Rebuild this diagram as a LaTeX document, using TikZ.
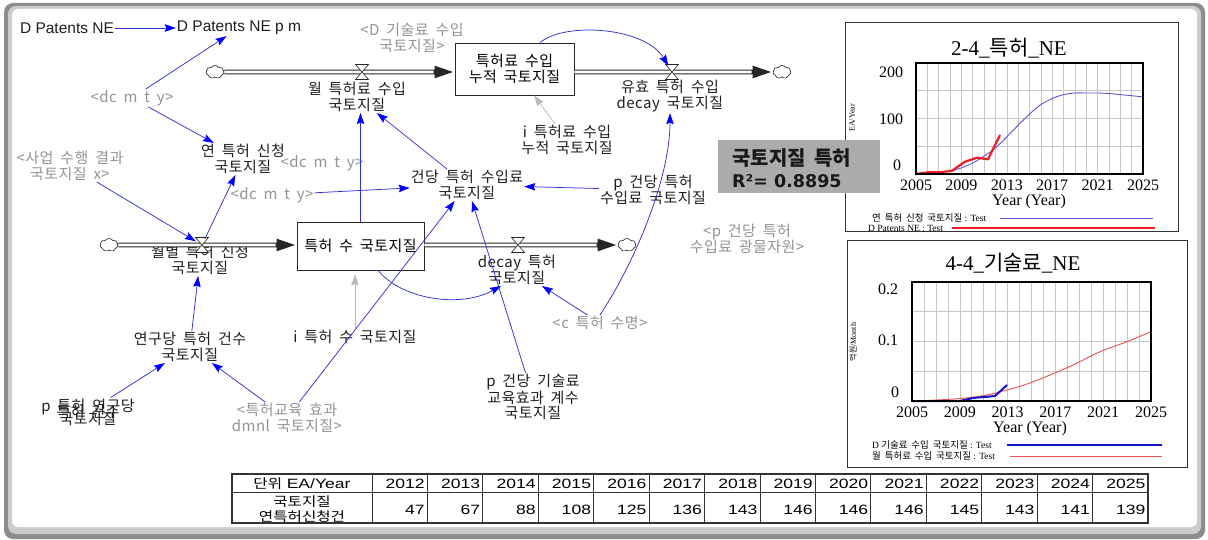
\documentclass[tikz,border=0pt]{standalone}
\usepackage{fontspec}
\setmainfont{Noto Sans CJK KR}[WordSpace=1.8, LetterSpace=3]
\newfontfamily\plainkr{Noto Sans CJK KR}[WordSpace=1.8]
\newfontfamily\lat{Liberation Sans}
\newfontfamily\dvb{DejaVu Sans}
\newfontfamily\cserif{Liberation Serif}
\newfontfamily\tabfont{Liberation Sans}[FakeStretch=1.3]
\newfontfamily\tabkr{Noto Sans CJK KR}[FakeStretch=1.2]
\usetikzlibrary{arrows.meta,shapes.geometric,shapes.symbols}
\definecolor{lnk}{RGB}{50,50,210}
\definecolor{tipc}{RGB}{0,0,255}
\definecolor{glnk}{RGB}{185,185,185}
\definecolor{boxg}{RGB}{171,171,171}
\definecolor{cablue}{RGB}{95,85,215}
\definecolor{cared}{RGB}{235,30,40}
\definecolor{cbblue}{RGB}{20,20,200}
\definecolor{cbred}{RGB}{235,80,80}
\begin{document}
\begin{tikzpicture}[x=1pt,y=-1pt,
  lbl/.style={font=\fontsize{15}{16}\selectfont, align=center, inner sep=1pt, text=black!88},
  glbl/.style={lbl, text=black!42},
  link/.style={draw=lnk, line width=0.75pt, -{Stealth[length=11pt,width=7.5pt,inset=1.5pt,color=tipc]}},
  glink/.style={draw=glnk, line width=0.75pt, -{Stealth[length=11pt,width=7.5pt,inset=1.5pt]}},
  stockbox/.style={draw=black!85, line width=0.8pt, fill=white, align=center, inner sep=0pt, font=\fontsize{15}{16.5}\selectfont},
  pipeo/.style={line width=4.6pt, draw=black!85},
  pipei/.style={line width=2.6pt, draw=white},
  pipetip/.style={-{Triangle[length=20pt,width=11pt]}},
  cloudn/.style={cloud, cloud puffs=7, cloud puff arc=110, aspect=1.35, draw=black!80, line width=0.7pt, fill=white, minimum width=18pt, minimum height=13pt, inner sep=0pt},
  valven/.style={inner sep=0pt, minimum width=12pt, minimum height=12pt},
  vglyph/.style={draw=black!85, fill=white, line width=0.6pt},
  gridl/.style={draw=black!22, line width=0.6pt},
  chartframe/.style={draw=black!80, line width=0.8pt, fill=white, anchor=north west, inner sep=0pt},
  ctick/.style={font=\cserif\fontsize{16}{16}\selectfont, inner sep=0pt},
  cleg/.style={font=\plainkr\fontsize{9.5}{9.5}\selectfont, inner sep=0pt, anchor=west},
  tabn/.style={font=\tabfont\fontsize{13.5}{14}\selectfont, inner sep=0pt, anchor=east}
]
\useasboundingbox (0,0) rectangle (1208,540);
% ---------- outer frame ----------
\fill[black!45, rounded corners=9pt] (4,3) rectangle (1205,539);
\fill[black!20, rounded corners=8pt] (8,6) rectangle (1201,534);
\fill[white, rounded corners=6pt] (12,9) rectangle (1197,527);

% ---------- chart 1 ----------
\node[chartframe, minimum width=333pt, minimum height=209pt] (c1frame) at (845,22) {};
\foreach \k in {1,...,19} \draw[gridl] ({916+\k*11.35},63) -- ({916+\k*11.35},174);
\foreach \yy in {90.75,118.5,146.25} \draw[gridl] (916,\yy) -- (1143,\yy);
\draw[cablue, line width=0.9pt] plot[smooth, tension=0.5] coordinates {(916,174) (927.35,173.7) (938.7,172.9) (950.05,171.2) (961.4,167.9) (972.75,162.9) (984.1,156.2) (995.45,147.9) (1006.8,136.8) (1018.15,125.2) (1029.5,114.1) (1040.85,104.6) (1052.2,98.5) (1063.55,94.6) (1074.9,93) (1086.25,93) (1097.6,93) (1108.95,93.5) (1120.3,94.6) (1131.65,95.7) (1143,96.9)};
\draw[cared, line width=2.2pt, line join=round] (916,174) -- (928,172.3) -- (940,172.3) -- (952,170.7) -- (965,161.7) -- (977,157.7) -- (988,159.3) -- (1000,135);
\draw[line width=1.5pt] (916,63) rectangle (1143,174);
\node[inner sep=0pt, font=\plainkr\fontsize{21}{21}\selectfont] (c1title) at (1009,48) {{\cserif 2-4\_}특허{\cserif \_NE}};
\node[ctick] (c1l200) at (891,72) {200};
\node[ctick] (c1l100) at (891,119) {100};
\node[ctick] (c1l0) at (897,165) {0};
\foreach \yr/\xx in {2005/916,2009/961.4,2013/1006.8,2017/1052.2,2021/1097.6,2025/1143}
  \node[ctick] (c1x\yr) at (\xx,185) {\yr};
\node[ctick] (c1xt) at (1029,202) {Year (Year)};
\node[rotate=90, inner sep=0pt, font=\cserif\fontsize{8}{8}\selectfont] (c1ylab) at (852,118) {EA/Year};
\node[cleg] (c1leg1) at (872,218) {연 특허 신청 국토지질{\cserif\ : Test}};
\draw[cablue, line width=0.9pt] (1000,218) -- (1153,218);
\node[cleg, font=\cserif\fontsize{9.5}{9.5}\selectfont] (c1leg2) at (868,228) {D Patents NE : Test};
\draw[cared, line width=2.2pt] (952,228) -- (1155,228);

% ---------- chart 2 ----------
\node[chartframe, minimum width=340pt, minimum height=227pt] (c2frame) at (847,240) {};
\foreach \k in {1,...,19} \draw[gridl] ({912+\k*11.95},282) -- ({912+\k*11.95},401);
\foreach \yy in {311.75,341.5,371.25} \draw[gridl] (912,\yy) -- (1151,\yy);
\draw[cbred, line width=0.9pt] plot[smooth, tension=0.5] coordinates {(912,401) (937,400) (963,398.3) (987,395) (1007,390) (1027,384) (1050,375) (1073,365) (1100,351.7) (1127,341.7) (1151,331.7)};
\draw[cbblue, line width=2pt, line join=round] (912,401) -- (960,401) -- (973,398) -- (995,396) -- (1007,385);
\draw[line width=1.5pt] (912,282) rectangle (1151,401);
\node[inner sep=0pt, font=\plainkr\fontsize{21}{21}\selectfont] (c2title) at (1013,263) {{\cserif 4-4\_}기술료{\cserif \_NE}};
\node[ctick] (c2l02) at (888,289) {0.2};
\node[ctick] (c2l01) at (888,340) {0.1};
\node[ctick] (c2l0) at (895,392) {0};
\foreach \yr/\xx in {2005/912,2009/959.8,2013/1007.6,2017/1055.4,2021/1103.2,2025/1151}
  \node[ctick] (c2x\yr) at (\xx,412) {\yr};
\node[ctick] (c2xt) at (1030,429) {Year (Year)};
\node[rotate=90, inner sep=0pt, font=\plainkr\fontsize{8}{8}\selectfont] (c2ylab) at (853,342) {억원{\cserif /Month}};
\node[cleg] (c2leg1) at (872,445) {{\cserif D }기술료 수입 국토지질{\cserif\ : Test}};
\draw[cbblue, line width=2pt] (1007,445) -- (1162,445);
\node[cleg] (c2leg2) at (872,456) {월 특허료 수입 국토지질{\cserif\ : Test}};
\draw[cbred, line width=0.9pt] (1010,456) -- (1162,456);

% ---------- table ----------
\draw[line width=1.3pt, black!80] (232,474) rectangle (1148,523);
\draw[line width=1pt, black!80] (232,492) -- (1148,492);
\foreach \k in {0,...,13} \draw[line width=1pt, black!80] ({372+55.43*\k},474) -- ({372+55.43*\k},523);
\node[inner sep=0pt] (th0) at (302,484) {{\tabkr\fontsize{13}{14}\selectfont 단위} {\tabfont\fontsize{13.5}{14}\selectfont EA/Year}};
\node[inner sep=0pt, align=center, font=\tabkr\fontsize{13}{15}\selectfont] (tr0) at (302,509) {국토지질\\연특허신청건};
\foreach \yr/\v [count=\i] in {2012/47,2013/67,2014/88,2015/108,2016/125,2017/136,2018/143,2019/146,2020/146,2021/146,2022/145,2023/143,2024/141,2025/139} {
  \node[tabn] (th\i) at ({372+55.43*\i-2.5},484) {\yr};
  \node[tabn] (tv\i) at ({372+55.43*\i-2.5},510) {\v};
}

% ---------- diagram nodes ----------
\node[lbl, font=\lat\fontsize{15.5}{16}\selectfont] (dpne) at (67,28) {D Patents NE};
\node[lbl, font=\lat\fontsize{15.5}{16}\selectfont] (dpnepm) at (239,28) {D Patents NE p m};
\node[glbl] (dtech) at (412,38) {<D 기술료 수입\\국토지질>};
\node[stockbox, minimum width=119pt, minimum height=52pt] (stock1) at (514.5,69) {특허료 수입\\누적 국토지질};
\node[cloudn] (cloud1) at (215,72) {};
\node[valven] (valve1) at (362,72) {};
\node[valven] (valve2) at (672,72) {};
\node[cloudn] (cloud2) at (782,72) {};
\node[lbl] (wolfee) at (357,97) {월 특허료 수입\\국토지질};
\node[lbl] (yuhyo) at (670,96) {유효 특허 수입\\decay 국토지질};
\node[lbl] (ifee) at (567,140) {i 특허료 수입\\누적 국토지질};
\node[glbl] (dcmty1) at (132,98) {<dc m t y>};
\node[lbl] (yeon) at (243,159) {연 특허 신청\\국토지질};
\node[glbl] (dcmty2) at (322,163) {<dc m t y>};
\node[glbl] (saup) at (70,166) {<사업 수행 결과\\국토지질 x>};
\node[lbl] (gundang) at (467,185) {건당 특허 수입료\\국토지질};
\node[glbl] (dcmty3) at (272,195) {<dc m t y>};
\node[lbl] (pgun) at (653,190) {p 건당 특허\\수입료 국토지질};
\node[stockbox, minimum width=127pt, minimum height=48pt] (stock2) at (360.5,246) {특허 수 국토지질};
\node[cloudn] (cloud3) at (109,245) {};
\node[valven] (valve3) at (202,245) {};
\node[valven] (valve4) at (518,245) {};
\node[cloudn] (cloud4) at (627,245) {};
\node[lbl] (wolbyeol) at (200,260) {월별 특허 신청\\국토지질};
\node[lbl] (decayp) at (517,270) {decay 특허\\국토지질};
\node[glbl] (pgwang) at (747,239) {<p 건당 특허\\수입료 광물자원>};
\node[lbl] (ipat) at (355,337) {i 특허 수 국토지질};
\node[glbl] (cpat) at (600,323) {<c 특허 수명>};
\node[lbl] (yeongu) at (190,347) {연구당 특허 건수\\국토지질};
\node[lbl, font={\fontsize{15}{6.5}\selectfont\lineskiplimit=-100pt\lineskip=0pt}] (pyeongu) at (88,412) {p 특허 연구당\\특허 건수\\국토지질};
\node[glbl] (edu) at (287,418) {<특허교육 효과\\dmnl 국토지질>};
\node[lbl, font=\fontsize{15}{15}\selectfont] (pgitech) at (533,397) {p 건당 기술료\\교육효과 계수\\국토지질};

% ---------- pipes ----------
\draw[pipeo, pipetip] (cloud1.east) -- (valve1 -| stock1.west);
\draw[pipei, shorten >=21pt] (cloud1.east) -- (valve1 -| stock1.west);
\draw[pipeo, pipetip] (valve2 -| stock1.east) -- (cloud2.west);
\draw[pipei, shorten >=21pt] (valve2 -| stock1.east) -- (cloud2.west);
\draw[pipeo, pipetip] (cloud3.east) -- (valve3 -| stock2.west);
\draw[pipei, shorten >=21pt] (cloud3.east) -- (valve3 -| stock2.west);
\draw[pipeo, pipetip] (valve4 -| stock2.east) -- (cloud4.west);
\draw[pipei, shorten >=21pt] (valve4 -| stock2.east) -- (cloud4.west);
\foreach \v in {valve1,valve2,valve3,valve4}
  \draw[vglyph] ([shift={(-6.5,-7.5)}]\v.center) -- ++(13,0) -- ++(-13,15) -- ++(13,0) -- cycle;

% ---------- links ----------
\draw[link] (dpne) -- (dpnepm);
\draw[link] (dcmty1) -- (dpnepm);
\draw[link] (dcmty1) -- (yeon);
\draw[link] (valve3) -- (yeon);
\draw[link] (saup) -- (valve3);
\draw[link] (stock2.north) -- (stock2.north |- wolfee.south);
\draw[link] (gundang) -- (wolfee);
\draw[link] (dcmty3) -- (gundang);
\draw[link] (pgun) -- (gundang);
\draw[link] (edu) -- (gundang);
\draw[link] (pgitech) -- (gundang);
\draw[link] (stock2.-54) .. controls +(22,28) and +(-42,23) .. (decayp.-135);
\draw[link] (cpat) -- (decayp);
\draw[link] (cpat.north) .. controls +(35,-53) and +(0,65) .. (yuhyo.south);
\draw[glink, shorten >=4pt] (ipat.north) -- (ipat.north |- stock2.south);
\draw[glink] (ifee) -- (stock1);
\draw[link] (yeongu) -- (wolbyeol);
\draw[link] (pyeongu) -- (yeongu);
\draw[link] (edu) -- (yeongu);
\draw[link] (stock1.46) .. controls +(25,-21) and +(-27,-45) .. (valve2);

% ---------- R^2 box ----------
\node[fill=boxg, minimum width=162pt, minimum height=53pt, anchor=north west, inner sep=0pt] (r2box) at (718,140) {};
\node[anchor=west, inner sep=0pt, font=\plainkr\bfseries\fontsize{20}{20}\selectfont, text=black!90] (r2t1) at (732,158) {국토지질 특허};
\node[anchor=west, inner sep=0pt, font=\dvb\bfseries\fontsize{17.5}{17.5}\selectfont, text=black!90] (r2t2) at (732,181) {R²= 0.8895};
\end{tikzpicture}
\end{document}
